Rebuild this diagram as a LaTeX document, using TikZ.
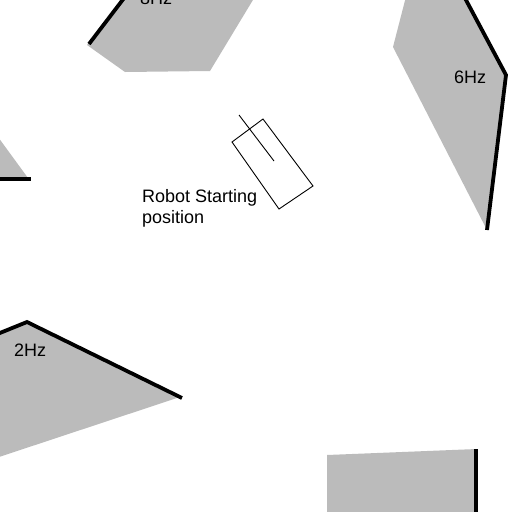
\documentclass[tikz,border=0pt]{standalone}
\usepackage{fontspec}
\setmainfont{Liberation Sans}
\definecolor{obst}{RGB}{187,187,187}
\tikzset{
  obstacle/.style={fill=obst, draw=none},
  wall/.style={line width=3.8pt, line cap=butt, line join=miter},
  robotline/.style={line width=0.9pt},
  lbl/.style={anchor=base west, inner sep=0pt, font=\fontsize{18}{21}\selectfont}
}
\begin{document}
\begin{tikzpicture}[x=1pt,y=-1pt]
\useasboundingbox (0,0) rectangle (512,512);
\clip (0,0) rectangle (512,512);
% top-left obstacle
\fill[obstacle] (87,45) -- (125,72) -- (210,71) -- (262,-15) -- (134,-15) -- cycle;
\draw[wall] (89,44) -- (134,-15);
\node[lbl] (f8) at (140,4) {8Hz};
% right obstacle
\fill[obstacle] (393,47) -- (487,230) -- (506,75) -- (458,-15) -- (409,-15) -- cycle;
\draw[wall] (458,-15) -- (506,75) -- (487,230);
\node[lbl] (f6) at (454,83) {6Hz};
% left small triangle
\fill[obstacle] (-10,126) -- (28,178) -- (-10,178) -- cycle;
\draw[wall] (-10,179) -- (31,179);
% bottom-left obstacle
\fill[obstacle] (-10,337) -- (27,322) -- (180,397) -- (-10,460) -- cycle;
\draw[wall] (-10,337) -- (27,322) -- (182,398);
\node[lbl] (f2) at (14,356) {2Hz};
% bottom-right obstacle
\fill[obstacle] (327,455) -- (477,449) -- (477,520) -- (327,520) -- cycle;
\draw[wall] (476,449) -- (476,520);
% robot
\draw[robotline] (232,142) -- (263,119) -- (313,186) -- (279,209) -- cycle;
\draw[robotline] (239,115) -- (274,161);
\node[lbl, align=left] (start) at (142,223) {Robot Starting\\position};
\end{tikzpicture}
\end{document}
